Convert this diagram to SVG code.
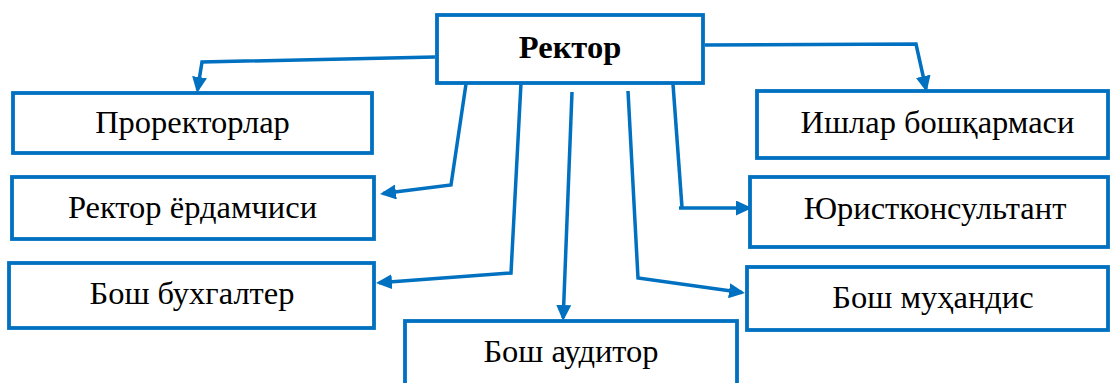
<svg xmlns="http://www.w3.org/2000/svg" width="1110" height="383" viewBox="0 0 1110 383">
<style>
.box{fill:#fff;stroke:#0070C0;stroke-width:3.8}
.lbl{font-family:"Liberation Serif","Times New Roman",serif;font-size:32.5px;fill:#000;text-anchor:middle}
.b{font-weight:bold}
.con{fill:none;stroke:#0070C0;stroke-width:3.5;stroke-linejoin:miter}
</style>
<defs>
<marker id="ah" markerUnits="userSpaceOnUse" markerWidth="16" markerHeight="15" viewBox="0 0 16 15" refX="13" refY="7.5" orient="auto">
<path d="M0,0 L16,7.5 L0,15 z" fill="#0070C0"/>
</marker>
</defs>
<rect width="1110" height="383" fill="#fff"/>
<g id="connectors">
<path class="con" d="M435,57 L202,62 L197.5,90" marker-end="url(#ah)"/>
<path class="con" d="M705,45 L916,44 L926,89" marker-end="url(#ah)"/>
<path class="con" d="M466,84 L451,185 L383,193.6" marker-end="url(#ah)"/>
<path class="con" d="M521,83 L511,273 L379,282.8" marker-end="url(#ah)"/>
<path class="con" d="M572,92 L563.2,318" marker-end="url(#ah)"/>
<path class="con" d="M628,91 L638,278 L742,292.6" marker-end="url(#ah)"/>
<path class="con" d="M673,84 L682,207.5"/>
<path class="con" d="M679,208 L749,208" marker-end="url(#ah)"/>
</g>
<g id="rector">
<rect class="box" x="437" y="15" width="266" height="68"/>
<text class="lbl b" x="570" y="58">Ректор</text>
</g>
<g id="prorektorlar">
<rect class="box" x="13" y="93" width="359" height="60"/>
<text class="lbl" x="192.5" y="133">Проректорлар</text>
</g>
<g id="rektor-yordamchisi">
<rect class="box" x="12" y="177" width="362" height="62"/>
<text class="lbl" x="192.5" y="218">Ректор ёрдамчиси</text>
</g>
<g id="bosh-buxgalter">
<rect class="box" x="9" y="263" width="365" height="65"/>
<text class="lbl" x="192" y="304">Бош бухгалтер</text>
</g>
<g id="bosh-auditor">
<rect class="box" x="405" y="321" width="332" height="80"/>
<text class="lbl" x="571" y="362">Бош аудитор</text>
</g>
<g id="ishlar">
<rect class="box" x="757" y="91" width="351" height="67"/>
<text class="lbl" x="937.5" y="133">Ишлар бошқармаси</text>
</g>
<g id="yuristkonsultant">
<rect class="box" x="750" y="177" width="358" height="70"/>
<text class="lbl" x="935" y="219">Юристконсультант</text>
</g>
<g id="bosh-muhandis">
<rect class="box" x="747" y="267" width="361" height="63"/>
<text class="lbl" x="933" y="308">Бош муҳандис</text>
</g>
</svg>
